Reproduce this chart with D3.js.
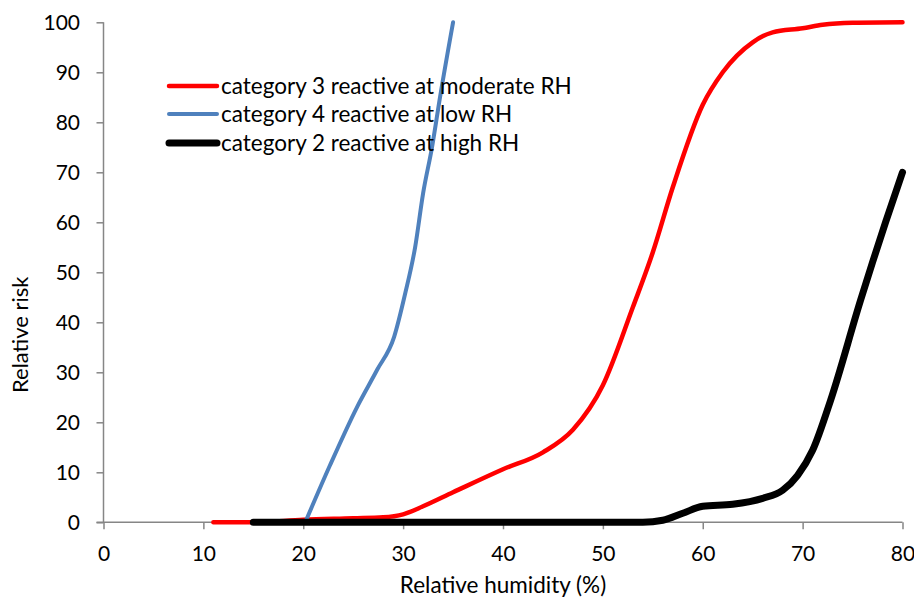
<!DOCTYPE html>
<html><head><meta charset="utf-8">
<script src="https://cdn.jsdelivr.net/npm/d3@7"></script>
<style>body{margin:0;background:#fff}text{font-family:Lato,"Open Sans",sans-serif;fill:#000}</style>
</head><body><svg id="c" width="914" height="601"></svg>
<script>
const xTicks = [0,10,20,30,40,50,60,70,80];
const yTicks = [0,10,20,30,40,50,60,70,80,90,100];
const seriesNames = ["category 3 reactive at moderate RH","category 4 reactive at low RH","category 2 reactive at high RH"];
const seriesColors = ["#ff0000","#4f81bd","#000000"];
const seriesWidths = [4.5,4,7];
const cat3RH   = [11,15,20,25,28,30,32,35,40,44,47,50,53,55,57,60,62,65,67,70,72,75,80];
const cat3Risk = [0,0,0.5,0.8,1,1.6,3.2,6,10.6,14,18.5,27.4,43,54,67,83.5,90,96,98,98.8,99.5,99.9,100];
const cat4RH   = [20.2,22.7,25.4,27.4,29.1,30.2,31.2,32.0,32.9,33.7,35];
const cat4Risk = [0,11.5,23.1,30.5,37.1,45.7,55,65.8,75.1,85.1,100];
const cat2RH   = [15,20,30,40,50,54,56,58,60,63,66,68,69.5,71,72.8,75.8,77,78.3,80];
const cat2Risk = [0,0,0,0,0,0,0.4,1.8,3.2,3.6,4.8,6.4,9.4,14.4,24.4,44.4,52,60,70];

const svg = d3.select("#c");
const x = d3.scaleLinear().domain([0,80]).range([103.5,902.5]);
const y = d3.scaleLinear().domain([0,100]).range([522.3,22.3]);
const grey = "#868686";

const gx = svg.append("g").attr("transform",`translate(0,${y(0)})`)
  .call(d3.axisBottom(x).tickValues(xTicks).tickSize(7));
const gy = svg.append("g").attr("transform",`translate(${x(0)},0)`)
  .call(d3.axisLeft(y).tickValues(yTicks).tickSize(7).tickPadding(16.5));
[gx,gy].forEach(g=>{
  g.select(".domain").attr("stroke",grey).attr("stroke-width",1.5);
  g.selectAll(".tick line").attr("stroke",grey).attr("stroke-width",1.5);
  g.selectAll(".tick text").style("font-family","Lato,'Open Sans',sans-serif").attr("font-size",21).attr("fill","#000");
});
gx.select(".domain").attr("d",`M${x(0)-7},0H${x(80)}`);
gy.select(".domain").attr("d",`M0,${y(0)}V${y(100)}`);
gx.selectAll(".tick text").attr("dy",0).attr("y",39);

const data = [
  cat3RH.map((v,i)=>[v,cat3Risk[i]]),
  cat4RH.map((v,i)=>[v,cat4Risk[i]]),
  cat2RH.map((v,i)=>[v,cat2Risk[i]])
];
const line = d3.line().x(d=>x(d[0])).y(d=>y(d[1])).curve(d3.curveMonotoneX);
data.forEach((d,i)=>{
  svg.append("path").attr("d",line(d)).attr("fill","none")
    .attr("stroke",seriesColors[i]).attr("stroke-width",seriesWidths[i])
    .attr("stroke-linecap","round").attr("stroke-linejoin","round");
});

const legY = [86,114,143];
seriesNames.forEach((n,i)=>{
  svg.append("line").attr("x1",169).attr("x2",217).attr("y1",legY[i]).attr("y2",legY[i])
    .attr("stroke",seriesColors[i]).attr("stroke-width",seriesWidths[i]).attr("stroke-linecap","round");
  svg.append("text").attr("x",221).attr("y",legY[i]).attr("dy","0.36em").attr("font-size",22.5).text(n);
});

svg.append("text").attr("transform",`translate(28,${y(37.5)}) rotate(-90)`)
  .attr("text-anchor","middle").attr("font-size",22).text("Relative risk");
svg.append("text").attr("x",503).attr("y",593).attr("text-anchor","middle")
  .attr("font-size",22.5).text("Relative humidity (%)");
</script></body></html>
